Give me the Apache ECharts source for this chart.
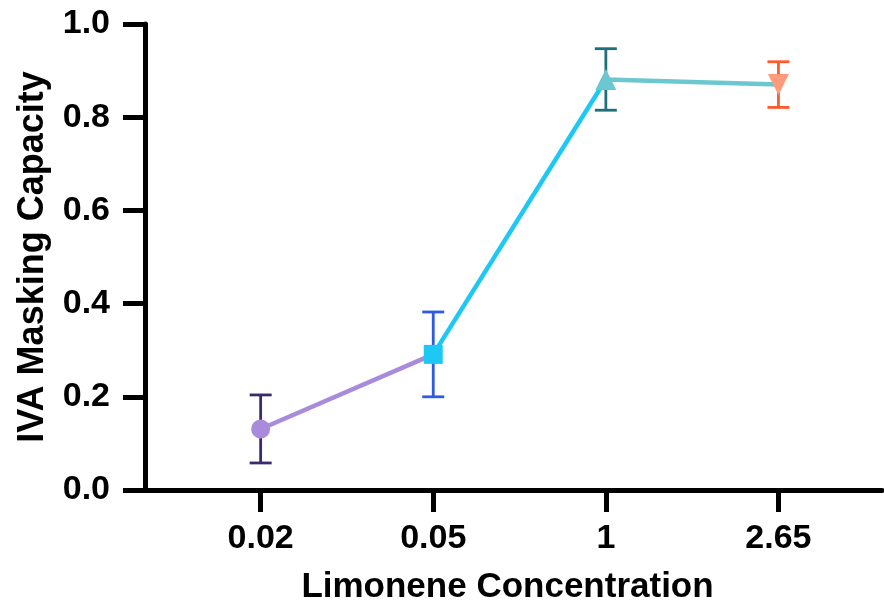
<!DOCTYPE html>
<html>
<head>
<meta charset="utf-8">
<script src="https://cdn.jsdelivr.net/npm/echarts@6/dist/echarts.min.js"></script>
<style>html,body{margin:0;padding:0;background:#fff}#c{width:884px;height:605px}</style>
</head>
<body>
<div id="c"></div>
<script>
// Data
const categories = ['0.02', '0.05', '1', '2.65'];
const means = [0.131, 0.291, 0.881, 0.870];
const errors = [0.073, 0.091, 0.066, 0.049];
const yTicks = [0, 0.2, 0.4, 0.6, 0.8, 1.0];

// Styles
const markerColors = ['#a98bdc', '#1ec8f5', '#6cc8d0', '#ff9b7a'];
const errorColors = ['#3d2a6b', '#2d5be3', '#1f6f7a', '#ff5a2a'];
const symbols = ['circle', 'rect', 'triangle', 'triangle'];
const symbolRotations = [0, 0, 0, 180];
const symbolSizes = [19, 19, 21, 21];

const font = '"Liberation Sans", Arial, sans-serif';
const idx = categories.map((c, i) => i);

const series = [];
// connecting segments coloured by start point
for (let i = 0; i < categories.length - 1; i++) {
  series.push({
    type: 'line',
    data: [[i, means[i]], [i + 1, means[i + 1]]],
    showSymbol: false,
    lineStyle: { color: markerColors[i], width: 4.5 },
    z: 2,
    silent: true
  });
}
// error bars
series.push({
  type: 'custom',
  z: 3,
  data: idx.map(i => [i, means[i] - errors[i], means[i] + errors[i]]),
  renderItem: function (params, api) {
    const i = params.dataIndex;
    const lo = api.coord([api.value(0), api.value(1)]);
    const hi = api.coord([api.value(0), api.value(2)]);
    const hw = 11;
    const st = { stroke: errorColors[i], lineWidth: 2.8 };
    return {
      type: 'group',
      children: [
        { type: 'line', shape: { x1: lo[0], y1: lo[1], x2: hi[0], y2: hi[1] }, style: st },
        { type: 'line', shape: { x1: lo[0] - hw, y1: lo[1], x2: lo[0] + hw, y2: lo[1] }, style: st },
        { type: 'line', shape: { x1: hi[0] - hw, y1: hi[1], x2: hi[0] + hw, y2: hi[1] }, style: st }
      ]
    };
  }
});
// markers
series.push({
  type: 'scatter',
  z: 4,
  data: idx.map(i => ({
    value: [i, means[i]],
    symbol: symbols[i],
    symbolSize: symbolSizes[i],
    symbolRotate: symbolRotations[i],
    itemStyle: { color: markerColors[i], opacity: 1 }
  }))
});

const chart = echarts.init(document.getElementById('c'), null, { renderer: 'canvas' });
chart.setOption({
  animation: false,
  backgroundColor: '#fff',
  grid: { left: 145, right: 2, top: 24, bottom: 115, containLabel: false, outerBoundsMode: 'none' },
  xAxis: {
    type: 'value',
    min: -0.67,
    max: 3.6,
    name: 'Limonene Concentration',
    nameLocation: 'middle',
    nameGap: 80,
    nameTextStyle: { fontFamily: font, fontWeight: 'bold', fontSize: 35, color: '#000', padding: [0, 12, 0, 0] },
    axisLine: { show: true, onZero: false, lineStyle: { color: '#000', width: 5 } },
    axisTick: { show: true, customValues: idx, length: 22, lineStyle: { color: '#000', width: 5 } },
    axisLabel: {
      customValues: idx,
      formatter: v => categories[Math.round(v)],
      fontFamily: font, fontWeight: 'bold', fontSize: 34, color: '#000', margin: 32
    },
    splitLine: { show: false }
  },
  yAxis: {
    type: 'value',
    min: 0,
    max: 1,
    interval: 0.2,
    name: 'IVA Masking Capacity',
    nameLocation: 'middle',
    nameGap: 94,
    nameTextStyle: { fontFamily: font, fontWeight: 'bold', fontSize: 36, color: '#000' },
    axisLine: { show: true, onZero: false, lineStyle: { color: '#000', width: 5 } },
    axisTick: { show: true, length: 22, lineStyle: { color: '#000', width: 5 } },
    axisLabel: {
      formatter: v => v.toFixed(1),
      fontFamily: font, fontWeight: 'bold', fontSize: 34, color: '#000', margin: 35
    },
    splitLine: { show: false }
  },
  series: series
});
</script>
</body>
</html>
